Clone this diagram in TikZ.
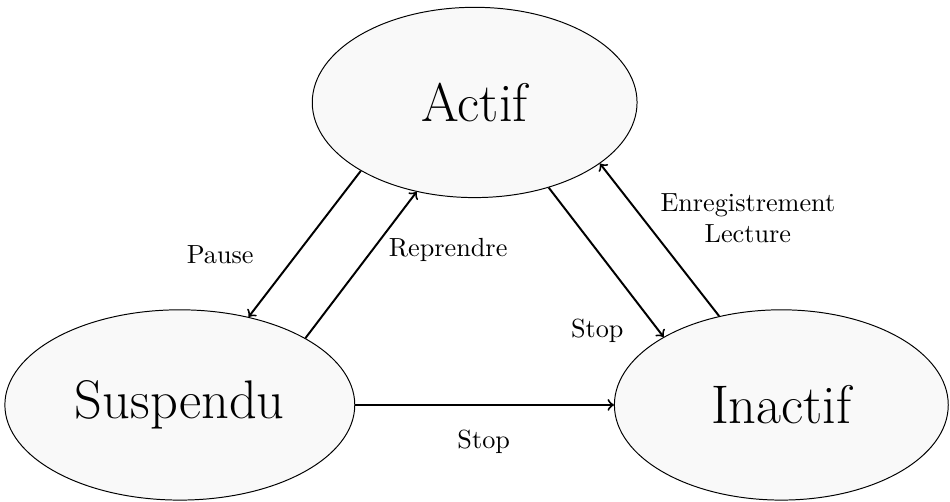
\documentclass[tikz,border=0pt]{standalone}
\usepackage{amsmath}
\usepackage{xcolor}
\usepackage{tikz}
\usetikzlibrary{shapes, arrows, positioning, calc}

\begin{document}
\begin{tikzpicture}[
  font=\fontsize{10.7}{13}\selectfont,
  etat/.style={ellipse, draw, fill=gray!5, font=\fontsize{22.2}{27}\selectfont, inner sep=0pt, minimum height=2.73cm},
  trans/.style={->, thick}
]
  \useasboundingbox (0,0) rectangle (13.63,7.19);

  % States
  \node[etat, minimum width=4.66cm] (actif) at (6.81,5.72) {Actif};
  \node[etat, minimum width=5.02cm] (suspendu) at (2.58,1.38) {Suspendu};
  \node[etat, minimum width=4.79cm] (inactif) at (11.21,1.38) {Inactif};

  % Transitions
  \draw[trans] (actif.211) -- (suspendu.52);
  \draw[trans] (suspendu.28) -- (actif.237);
  \draw[trans] (actif.311) -- (inactif.150);
  \draw[trans] (inactif.125) -- (actif.334);
  \draw[trans] (suspendu.east) -- (inactif.west);

  % Labels
  \node (lpause) at (3.16,3.53) {Pause};
  \node (lreprendre) at (6.43,3.60) {Reprendre};
  \node (lstop) at (8.57,2.45) {Stop};
  \node[align=center] (lenreg) at (10.73,4.06) {Enregistrement\\Lecture};
  \node (lstopbas) at (6.94,0.85) {Stop};
\end{tikzpicture}
\end{document}
